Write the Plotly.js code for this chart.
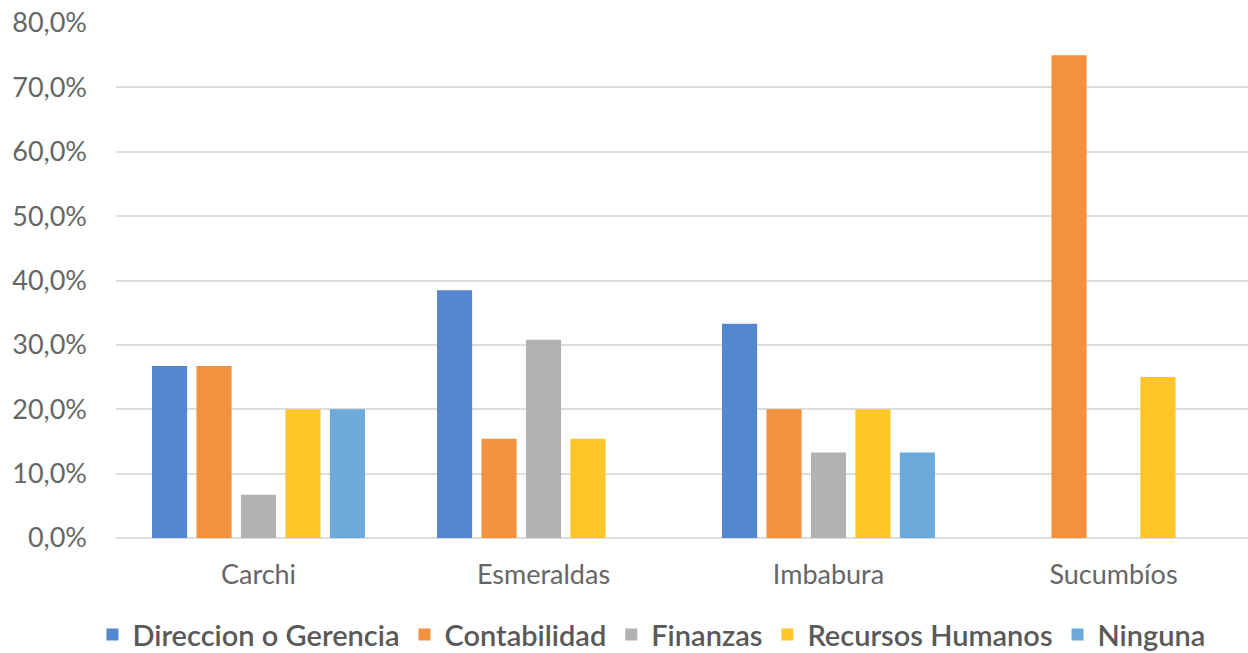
<!DOCTYPE html>
<html><head><meta charset="utf-8">
<script src="https://cdn.plot.ly/plotly-3.0.1.min.js"></script>
<style>html,body{margin:0;padding:0;background:#fff}#c{width:1248px;height:653px}</style>
</head><body><div id="c"></div>
<script>
const categories = ["Carchi", "Esmeraldas", "Imbabura", "Sucumbíos"];
const seriesNames = ["Direccion o Gerencia", "Contabilidad", "Finanzas", "Recursos Humanos", "Ninguna"];
const direccion = [26.7, 38.5, 33.3, 0];
const contabilidad = [26.7, 15.4, 20.0, 75.0];
const finanzas = [6.7, 30.8, 13.3, 0];
const recursos = [20.0, 15.4, 20.0, 25.0];
const ninguna = [20.0, 0, 13.3, 0];
const yTicks = [0, 10, 20, 30, 40, 50, 60, 70, 80];
const yTickText = ["0,0%", "10,0%", "20,0%", "30,0%", "40,0%", "50,0%", "60,0%", "70,0%", "80,0%"];

const colors = ["#5587CF", "#F3913E", "#B2B2B2", "#FEC628", "#6CAADC"];
const values = [direccion, contabilidad, finanzas, recursos, ninguna];
const traces = values.map((v, i) => ({
  type: "bar", x: categories, y: v, name: seriesNames[i],
  marker: {color: colors[i]}, hoverinfo: "skip"
}));

const layout = {
  width: 1248, height: 653,
  margin: {l: 116, r: 0, t: 23, b: 115},
  barmode: "group", bargap: 0.22, bargroupgap: 0.21,
  font: {family: "Lato, 'Open Sans', sans-serif", color: "#666666"},
  paper_bgcolor: "#fff", plot_bgcolor: "#fff",
  xaxis: {range: [-0.5, 3.472], showgrid: false, zeroline: false, showline: false,
    ticks: "", tickfont: {size: 27, color: "#666666"}, ticklabelstandoff: 18},
  yaxis: {range: [0, 80], tickvals: yTicks, ticktext: yTickText,
    showgrid: true, gridcolor: "#DDDDDD", gridwidth: 2, zeroline: true, zerolinecolor: "#DDDDDD", zerolinewidth: 2,
    showline: false, ticks: "", tickfont: {size: 27, color: "#666666"}, ticklabelstandoff: 28},
  showlegend: true,
  legend: {orientation: "h", xref: "container", yref: "container", x: 0.522, xanchor: "center",
    y: 0.028, yanchor: "middle", font: {size: 29, color: "#595959", family: "Lato, sans-serif", weight: 600},
    itemwidth: 30, traceorder: "normal", itemclick: false}
};
Plotly.newPlot("c", traces, layout, {displayModeBar: false, staticPlot: true});
</script></body></html>
